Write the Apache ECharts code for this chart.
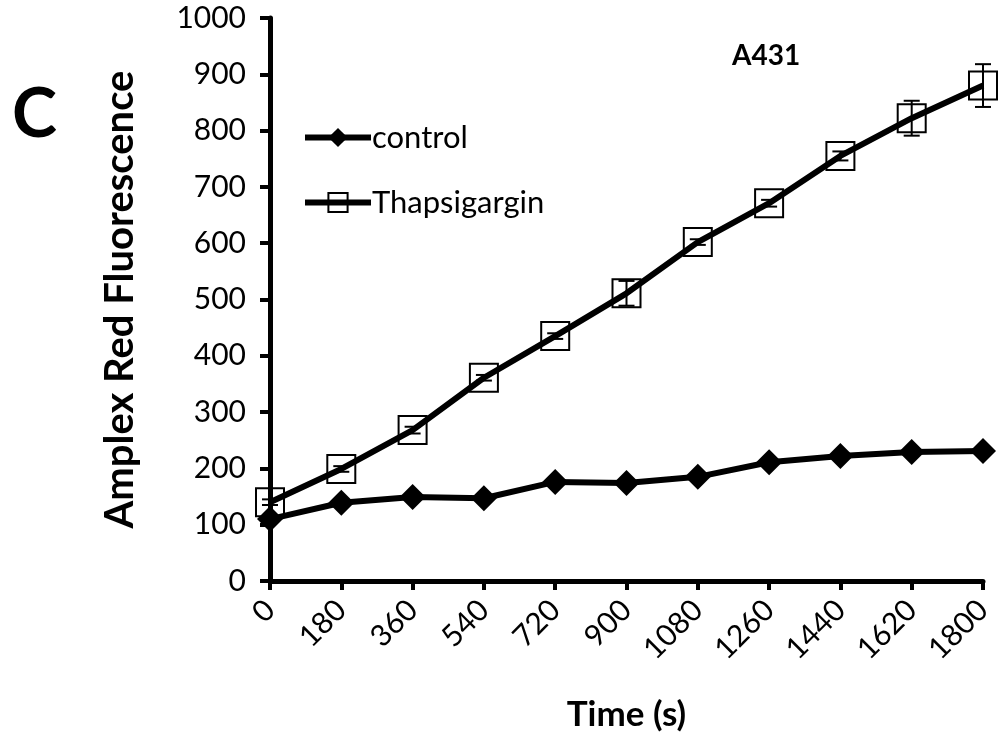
<!DOCTYPE html>
<html>
<head>
<meta charset="utf-8">
<script src="https://cdn.jsdelivr.net/npm/echarts@6/dist/echarts.min.js"></script>
<style>
	* { margin: 0; padding: 0; }
	body { background: #fff; }
	#main { width: 1001px; height: 739px; }
</style>
</head>
<body>
<div id="main"></div>
<script>
	var times = ['0', '180', '360', '540', '720', '900', '1080', '1260', '1440', '1620', '1800'];
	var control = [110, 139, 149, 147, 176, 174, 185, 211, 222, 229, 231];
	var thapsigargin = [140, 199, 268, 361, 435, 511, 602, 671, 755, 822, 880];
	var thapsErr = [5, 5, 6, 5, 5, 22, 5, 6, 8, 31, 38];

	var font = 'Lato, "Open Sans", sans-serif';

	var errData = thapsigargin.map(function (v, i) {
		return [i, v - thapsErr[i], v + thapsErr[i]];
	});

	var chart = echarts.init(document.getElementById('main'));
	chart.setOption({
		animation: false,
		grid: { left: 270, right: 18, top: 18, bottom: 158 },
		legend: {
			orient: 'vertical',
			left: 297,
			top: 117,
			itemGap: 34,
			itemWidth: 66,
			itemHeight: 24,
			lineStyle: { width: 6 },
			textStyle: { fontFamily: font, fontSize: 31, color: '#000', padding: [0, 0, 0, -4] },
			data: ['control', 'Thapsigargin']
		},
		title: [
			{ text: 'C', left: 7, top: 76, textStyle: { fontFamily: font, fontSize: 68, fontWeight: 'bold', color: '#000' } },
			{ text: 'A431', left: 727, top: 37, textStyle: { fontFamily: font, fontSize: 28, fontWeight: 'bold', color: '#000' } }
		],
		xAxis: {
			type: 'category',
			boundaryGap: false,
			data: times,
			name: 'Time (s)',
			nameLocation: 'middle',
			nameGap: 116,
			nameTextStyle: { fontFamily: font, fontSize: 35, fontWeight: 'bold', color: '#000' },
			axisLine: { lineStyle: { color: '#000', width: 5 } },
			axisTick: { alignWithLabel: true, length: 9, lineStyle: { color: '#000', width: 4 } },
			axisLabel: { rotate: 45, margin: 24, fontFamily: font, fontSize: 30, color: '#000', interval: 0 },
			splitLine: { show: false }
		},
		yAxis: {
			type: 'value',
			min: 0,
			max: 1000,
			interval: 100,
			name: 'Amplex Red Fluorescence',
			nameLocation: 'middle',
			nameGap: 130,
			nameTextStyle: { fontFamily: font, fontSize: 40, fontWeight: 'bold', color: '#000' },
			axisLine: { show: true, lineStyle: { color: '#000', width: 5 } },
			axisTick: { show: true, inside: false, length: 10, lineStyle: { color: '#000', width: 4 } },
			axisLabel: {
				margin: 24,
				fontFamily: font,
				fontSize: 30,
				color: '#000',
				formatter: function (v) { return String(v); }
			},
			splitLine: { show: false }
		},
		series: [
			{
				name: 'control',
				type: 'line',
				data: control,
				symbol: 'diamond',
				symbolSize: 26,
				itemStyle: { color: '#000' },
				lineStyle: { color: '#000', width: 6 },
				z: 3
			},
			{
				name: 'Thapsigargin',
				type: 'line',
				data: thapsigargin,
				symbol: 'rect',
				symbolSize: 28,
				itemStyle: { color: 'rgba(255,255,255,0)', borderColor: '#000', borderWidth: 2 },
				lineStyle: { color: '#000', width: 6 },
				z: 3
			},
			{
				name: 'err',
				type: 'custom',
				data: errData,
				z: 4,
				renderItem: function (params, api) {
					var lo = api.coord([api.value(0), api.value(1)]);
					var hi = api.coord([api.value(0), api.value(2)]);
					var w = 8;
					var st = { stroke: '#000', lineWidth: 2 };
					return {
						type: 'group',
						children: [
							{ type: 'line', shape: { x1: lo[0], y1: lo[1], x2: hi[0], y2: hi[1] }, style: st },
							{ type: 'line', shape: { x1: lo[0] - w, y1: lo[1], x2: lo[0] + w, y2: lo[1] }, style: st },
							{ type: 'line', shape: { x1: hi[0] - w, y1: hi[1], x2: hi[0] + w, y2: hi[1] }, style: st }
						]
					};
				}
			}
		]
	});
</script>
</body>
</html>
